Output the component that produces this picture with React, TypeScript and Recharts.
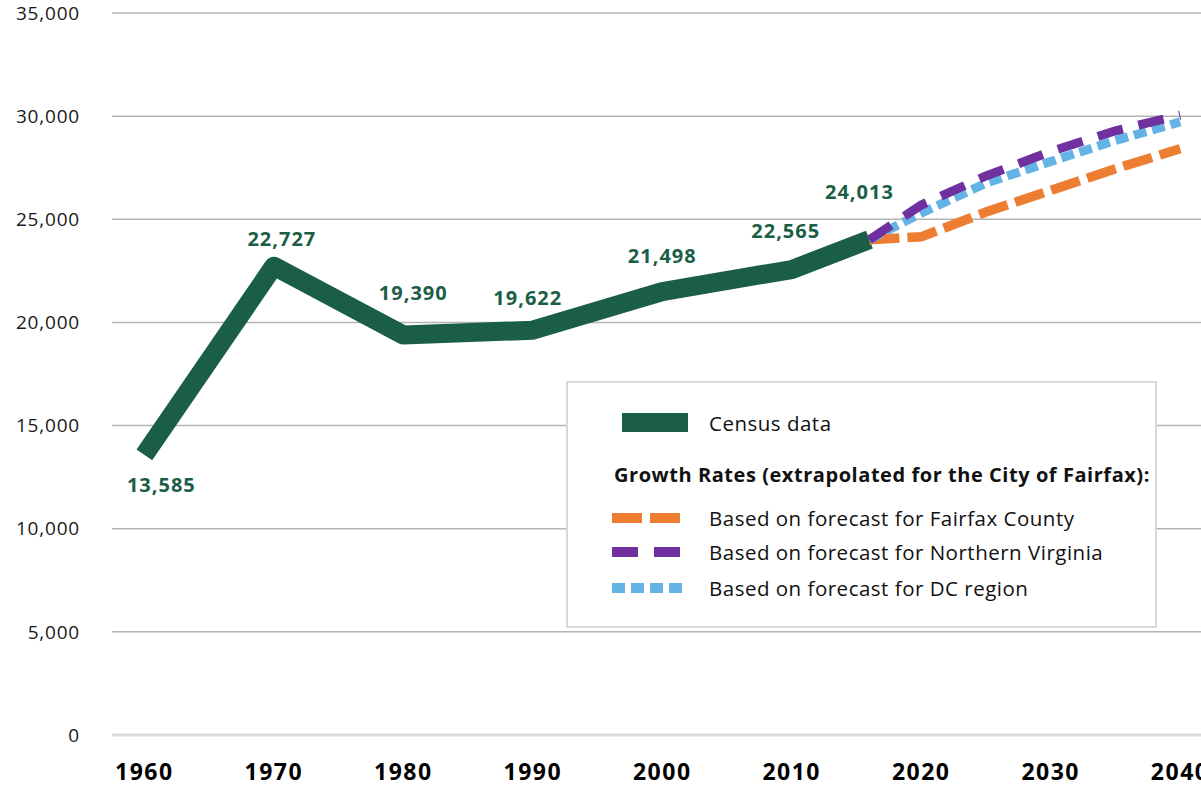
import { LineChart, Line, XAxis, YAxis, CartesianGrid, Legend, LabelList } from "recharts";

// census counts, City of Fairfax
const censusYears = [1960, 1970, 1980, 1990, 2000, 2010, 2016];
const censusPopulation = [13585, 22727, 19390, 19622, 21498, 22565, 24013];

// growth-rate extrapolations
const forecastYears = [2016, 2020, 2025, 2030, 2035, 2040];
const fairfaxCountyRate = [24013, 24150, 25350, 26400, 27450, 28420];
const northernVirginiaRate = [24013, 25690, 27100, 28280, 29290, 30050];
const dcRegionRate = [24013, 25300, 26750, 27800, 28820, 29720];

const yearTicks = [1960, 1970, 1980, 1990, 2000, 2010, 2020, 2030, 2040];
const populationTicks = [0, 5000, 10000, 15000, 20000, 25000, 30000, 35000];

const legendTitle = "Growth Rates (extrapolated for the City of Fairfax):";

const FONT = "'Open Sans', sans-serif";
const GREEN = "#1b5e46";
const ORANGE = "#ed7d31";
const PURPLE = "#7030a0";
const BLUE = "#63b4e5";

const census = censusYears.map((year, i) => ({ year, value: censusPopulation[i] }));
const toForecast = (values: number[]) => forecastYears.map((year, i) => ({ year, value: values[i] }));

// label offsets from each census point (px)
const labelNudge = [
  [17, 30],
  [8, -28],
  [10, -43],
  [-5, -33],
  [0, -36],
  [-6, -39],
  [-10, -48],
];

const CensusLabel = (props: any) => {
  const { x, y, index, value } = props;
  const [dx, dy] = labelNudge[index] || [0, -30];
  return (
    <text
      x={x + dx}
      y={y + dy}
      textAnchor="middle"
      dominantBaseline="central"
      fill={GREEN}
      fontFamily={FONT}
      fontWeight={700}
      fontSize={20}
      letterSpacing={1}
    >
      {Number(value).toLocaleString("en-US")}
    </text>
  );
};

const Sample = ({ color, width, dash }: any) => (
  <svg width={70} height={20} style={{ display: "block" }}>
    <line x1={0} y1={10} x2={70} y2={10} stroke={color} strokeWidth={width} strokeDasharray={dash} />
  </svg>
);

const rowText = {
  position: "absolute",
  left: 141,
  fontSize: 20.5,
  letterSpacing: 0.5,
  color: "#111",
  whiteSpace: "nowrap",
  transform: "translateY(-50%)",
} as const;

const FairfaxLegend = () => (
  <div
    style={{
      width: 591,
      height: 247,
      boxSizing: "border-box",
      border: "2px solid #d9d9d9",
      background: "#fff",
      fontFamily: FONT,
      position: "relative",
    }}
  >
    <div style={{ position: "absolute", left: 54, top: 30, width: 66, height: 19, background: GREEN }} />
    <div style={{ ...rowText, top: 40 }}>Census data</div>
    <div style={{ ...rowText, left: 46, top: 91, fontWeight: 700, fontSize: 20, letterSpacing: 0.55 }}>{legendTitle}</div>
    <div style={{ position: "absolute", left: 44, top: 125 }}>
      <Sample color={ORANGE} width={10} dash="30 8" />
    </div>
    <div style={{ ...rowText, top: 135 }}>Based on forecast for Fairfax County</div>
    <div style={{ position: "absolute", left: 44, top: 159 }}>
      <Sample color={PURPLE} width={10} dash="26 16" />
    </div>
    <div style={{ ...rowText, top: 169 }}>Based on forecast for Northern Virginia</div>
    <div style={{ position: "absolute", left: 44, top: 195 }}>
      <Sample color={BLUE} width={10} dash="13 6" />
    </div>
    <div style={{ ...rowText, top: 205 }}>Based on forecast for DC region</div>
  </div>
);

export default function App() {
  return (
    <div style={{ position: "absolute", left: 0, top: 0, width: 1201, height: 787, overflow: "hidden", background: "#fff" }}>
      <LineChart width={1240} height={787} margin={{ top: 13, right: 21, bottom: 0, left: 0 }}>
        <CartesianGrid vertical={false} stroke="#b4b4b4" strokeWidth={1.5} horizontalValues={populationTicks.slice(1)} />
        <XAxis
          type="number"
          dataKey="year"
          domain={[1957.5, 2043]}
          ticks={yearTicks}
          height={52}
          tickLine={false}
          tickSize={0}
          tickMargin={29}
          axisLine={{ stroke: "#d9d9d9", strokeWidth: 3 }}
          tick={{ fill: "#000", fontSize: 23, fontWeight: 700, fontFamily: FONT, letterSpacing: 1.5 }}
          allowDecimals={false}
        />
        <YAxis
          type="number"
          domain={[0, 35000]}
          ticks={populationTicks}
          width={112}
          axisLine={false}
          tickLine={false}
          tickSize={0}
          tickMargin={32}
          tickFormatter={(v: number) => v.toLocaleString("en-US")}
          tick={{ fill: "#1a1a1a", fontSize: 19, fontFamily: FONT, letterSpacing: 0.8 }}
        />
        <Legend
          layout="vertical"
          align="center"
          verticalAlign="middle"
          content={() => <FairfaxLegend />}
          wrapperStyle={{ left: 566, top: 381, width: 591, height: 247 }}
        />
        <Line
          data={census}
          dataKey="value"
          name="Census data"
          stroke={GREEN}
          strokeWidth={19}
          strokeLinejoin="round"
          strokeLinecap="butt"
          dot={false}
          activeDot={false}
          isAnimationActive={false}
        >
          <LabelList dataKey="value" content={CensusLabel} />
        </Line>
        <Line
          data={toForecast(fairfaxCountyRate)}
          dataKey="value"
          name="Based on forecast for Fairfax County"
          stroke={ORANGE}
          strokeWidth={9.5}
          strokeDasharray="30 8"
          dot={false}
          activeDot={false}
          isAnimationActive={false}
        />
        <Line
          data={toForecast(dcRegionRate)}
          dataKey="value"
          name="Based on forecast for DC region"
          stroke={BLUE}
          strokeWidth={9}
          strokeDasharray="13 6"
          dot={false}
          activeDot={false}
          isAnimationActive={false}
        />
        <Line
          data={toForecast(northernVirginiaRate)}
          dataKey="value"
          name="Based on forecast for Northern Virginia"
          stroke={PURPLE}
          strokeWidth={9}
          strokeDasharray="26 16"
          dot={false}
          activeDot={false}
          isAnimationActive={false}
        />
      </LineChart>
    </div>
  );
}
